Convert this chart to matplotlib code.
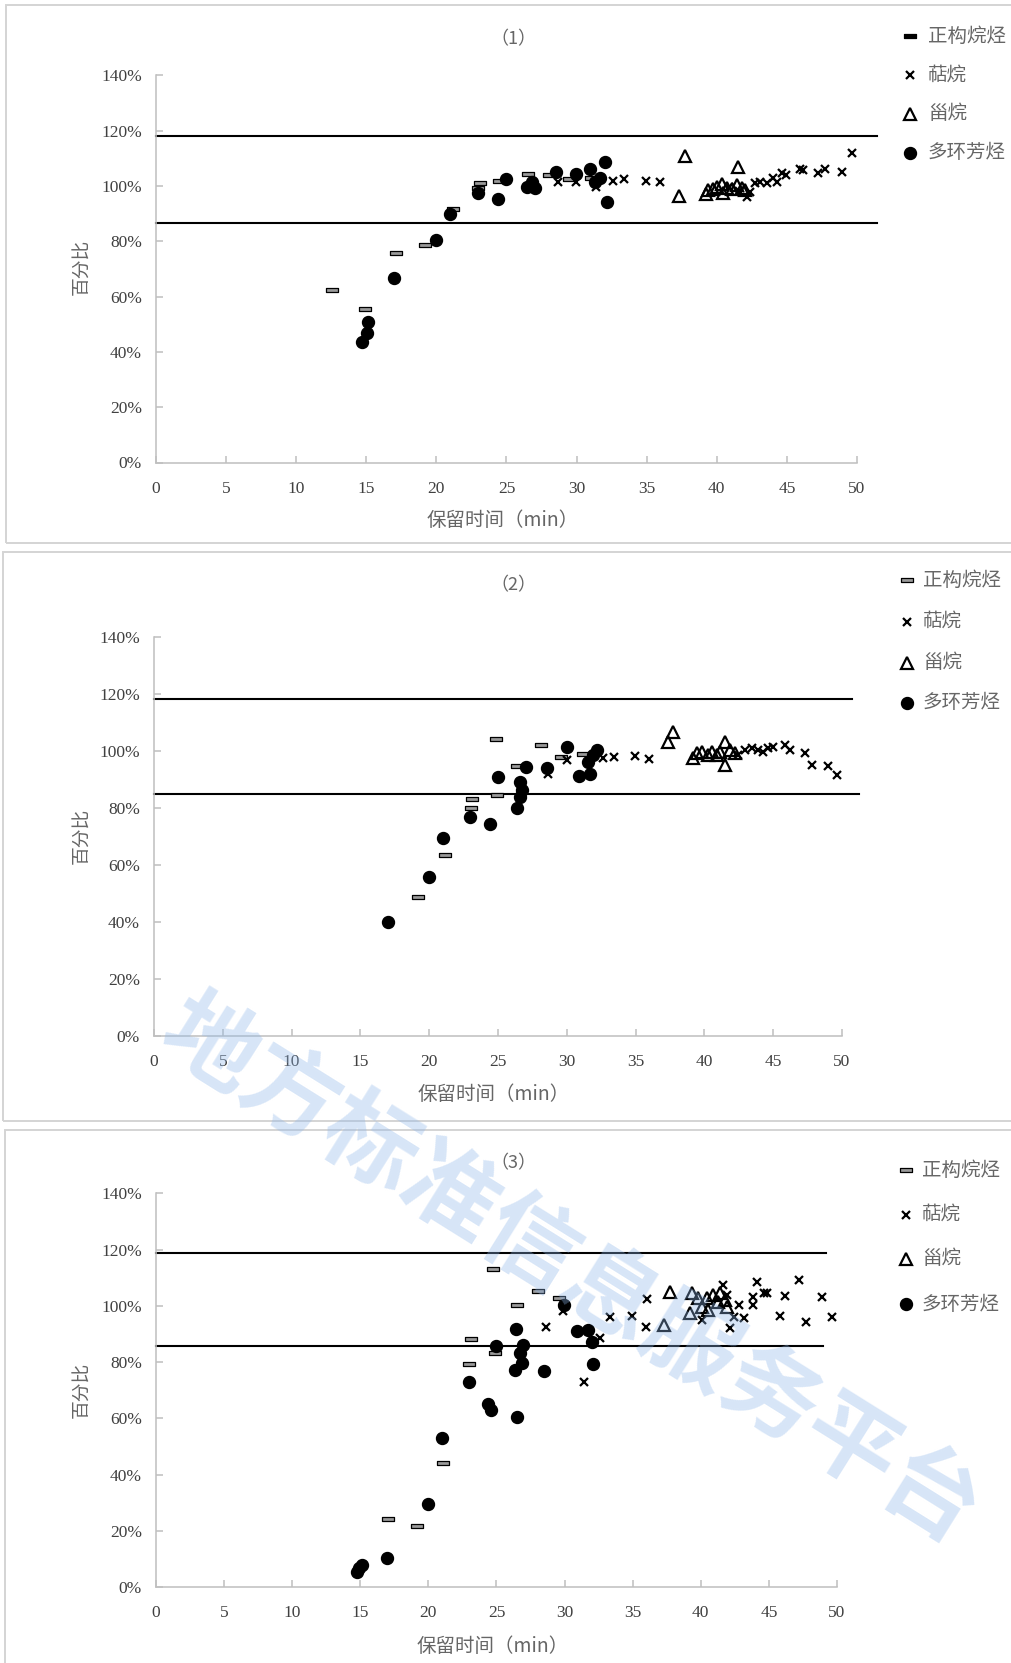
import numpy as np
import matplotlib
matplotlib.use("Agg")
import matplotlib.pyplot as plt
from matplotlib.path import Path
from matplotlib.patches import Rectangle
from matplotlib.ticker import FuncFormatter, MultipleLocator

plt.rcParams['font.family'] = ['Liberation Serif', 'Noto Sans CJK SC', 'DejaVu Sans']

# ---- data (retention time, min / recovery, %) ----
names = ["正构烷烃", "萜烷", "甾烷", "多环芳烃"]
titles = ["（1）", "（2）", "（3）"]

alk1_t = [12.58, 14.93, 17.1, 19.19, 21.16, 23.0, 23.13, 24.5, 26.55, 28.05, 29.48, 31.03]
alk1_v = [62.4, 55.4, 75.9, 78.5, 91.5, 99.4, 101.0, 101.8, 104.3, 103.9, 102.4, 103.0]
ter1_t = [28.65, 29.96, 31.38, 32.62, 33.38, 34.95, 35.95, 40.9, 41.6, 42.18, 42.37, 42.72, 43.08,
          43.56, 44.03, 44.27, 44.63, 44.94, 45.93, 46.17, 47.24, 47.72, 48.9, 49.62]
ter1_v = [101.3, 101.5, 99.7, 101.9, 102.4, 101.8, 101.5, 99.5, 98.2, 95.9, 97.9, 100.9, 101.5,
          100.9, 102.7, 101.5, 104.6, 103.9, 106.0, 105.7, 104.6, 106.0, 105.1, 111.8]
ste1_t = [37.3, 37.73, 39.2, 39.4, 39.75, 39.99, 40.35, 40.47, 40.7, 41.06, 41.42, 41.49, 41.78, 42.0]
ste1_v = [96.5, 110.8, 97.1, 98.5, 98.8, 99.7, 100.7, 97.3, 99.1, 98.8, 100.3, 106.7, 99.1, 98.5]
pah1_t = [14.72, 15.03, 15.12, 17.0, 20.0, 21.0, 22.99, 24.42, 25.0, 26.44, 26.8, 27.03, 28.5,
          29.98, 30.94, 31.3, 31.67, 32.03, 32.15]
pah1_v = [43.7, 46.9, 50.8, 66.8, 80.4, 89.8, 97.3, 95.4, 102.5, 99.7, 101.5, 99.1, 104.9,
          104.2, 106.1, 101.3, 102.7, 108.5, 94.3]

alk2_t = [19.16, 21.13, 23.06, 23.13, 24.83, 24.95, 26.40, 28.12, 29.58, 31.20]
alk2_v = [48.8, 63.4, 80.1, 83.1, 104.0, 84.5, 94.8, 102.0, 97.9, 98.9]
ter2_t = [28.66, 29.99, 32.66, 33.43, 34.96, 36.0, 42.47, 42.95, 43.44, 43.92, 44.28, 44.65,
          45.01, 45.86, 46.22, 47.31, 47.80, 49.0, 49.66]
ter2_v = [91.8, 96.8, 97.4, 97.9, 98.2, 97.1, 98.5, 100.3, 100.9, 100.3, 99.7, 100.9,
          101.4, 102.0, 100.3, 99.1, 95.0, 94.7, 91.5]
ste2_t = [37.38, 37.74, 39.2, 39.44, 39.8, 40.29, 40.53, 40.89, 41.13, 41.5, 41.5, 41.86, 42.22]
ste2_v = [103.2, 106.7, 97.4, 99.1, 99.7, 98.5, 99.7, 98.5, 99.7, 103.2, 95.0, 100.3, 99.1]
pah2_t = [16.97, 19.98, 21.0, 22.99, 24.41, 24.99, 26.40, 26.60, 26.72, 26.60, 27.01, 28.54,
          29.99, 30.91, 31.69, 31.57, 31.93, 32.17]
pah2_v = [40.0, 55.8, 69.6, 76.8, 74.4, 90.9, 79.9, 89.2, 86.3, 83.9, 94.4, 94.1,
          101.4, 91.2, 91.9, 96.2, 98.5, 100.3]

alk3_t = [17.06, 19.14, 21.1, 23.0, 23.1, 24.77, 24.89, 26.53, 28.07, 29.61]
alk3_v = [24.2, 21.7, 44.0, 79.2, 88.1, 113.0, 83.1, 100.3, 105.4, 102.7]
ter3_t = [28.63, 29.9, 31.42, 32.6, 33.33, 34.93, 35.98, 36.03, 40.07, 41.61, 41.9, 42.14, 42.44,
          42.83, 43.17, 43.85, 43.85, 44.15, 44.64, 44.88, 45.81, 46.18, 47.23, 47.72, 48.92, 49.61]
ter3_v = [92.6, 98.3, 73.0, 88.5, 95.9, 96.5, 92.6, 102.5, 95.0, 107.4, 103.9, 92.0, 96.2,
          100.3, 95.6, 103.3, 100.3, 108.6, 104.5, 104.5, 96.4, 103.5, 109.2, 94.4, 103.1, 96.2]
ste3_t = [37.3, 37.74, 39.21, 39.33, 39.82, 40.1, 40.43, 40.55, 40.92, 41.29, 41.41, 41.78, 41.9]
ste3_v = [93.2, 105.1, 97.4, 104.5, 102.7, 99.5, 102.7, 98.5, 103.9, 101.5, 104.5, 102.1, 99.7]
pah3_t = [14.73, 14.9, 15.1, 16.98, 19.95, 20.97, 23.0, 24.4, 24.57, 24.96, 26.43, 26.48, 26.36,
          26.85, 26.73, 26.97, 28.49, 29.97, 30.89, 31.74, 32.04, 32.11]
pah3_v = [5.4, 6.6, 7.8, 10.4, 29.6, 52.9, 73.0, 65.1, 63.0, 85.8, 91.8, 60.4, 77.2,
          79.6, 83.1, 86.1, 76.8, 100.3, 91.2, 91.4, 87.0, 79.3]

# acceptance limits (upper, lower) and where each line ends
limits = [(118.0, 86.6), (118.0, 84.8), (118.7, 85.7)]
limit_end = [(51.4, 51.4), (50.7, 51.2), (49.2, 49.0)]

panels = [
    (alk1_t, alk1_v, ter1_t, ter1_v, ste1_t, ste1_v, pah1_t, pah1_v),
    (alk2_t, alk2_v, ter2_t, ter2_v, ste2_t, ste2_v, pah2_t, pah2_v),
    (alk3_t, alk3_v, ter3_t, ter3_v, ste3_t, ste3_v, pah3_t, pah3_v),
]

# ---- layout (pixels of a 1012 x 1663 canvas) ----
W, H = 1012, 1663
fig = plt.figure(figsize=(W / 100, H / 100), dpi=100)

ax_px = [(156, 857, 462.5, 75.3), (154, 842, 1036.4, 636.5), (156, 837, 1587, 1193.4)]
box_px = [(6, 5, 1100, 543), (3, 552, 1100, 1121), (5, 1130, 1100, 1700)]
title_y = [39, 585, 1163]
leg_x = [(910, 928), (907, 923), (906, 922)]
leg_y = [[36, 75, 113.5, 153], [580, 621.5, 663, 703], [1170, 1214.5, 1259, 1304]]
xlab_y = [521, 1095, 1646]
ylab_y = [267, 836, 1390]

rect_marker = Path([(-1, -0.3), (1, -0.3), (1, 0.3), (-1, 0.3), (-1, -0.3)],
                   [Path.MOVETO, Path.LINETO, Path.LINETO, Path.LINETO, Path.CLOSEPOLY])

grey_txt = '#666666'
tick_txt = '#404040'
spine_c = '#bfbfbf'
cjk = ['Noto Sans CJK SC', 'DejaVu Sans']


def fx(px):
    return px / W


def fy(py):
    return 1 - py / H


for i, data in enumerate(panels):
    x0, x1, y0, y1 = ax_px[i]
    ax = fig.add_axes([fx(x0), fy(y0), (x1 - x0) / W, (y0 - y1) / H])

    bx0, by0, bx1, by1 = box_px[i]
    fig.patches.append(Rectangle((fx(bx0), fy(by1)), (bx1 - bx0) / W, (by1 - by0) / H,
                                 transform=fig.transFigure, fill=False,
                                 edgecolor='#d4d4d4', linewidth=1.4, zorder=0))

    at, av, tt, tv, st, sv, pt, pv = data
    up, lo = limits[i]
    ue, le = limit_end[i]
    ax.plot([0, ue], [up, up], color='black', lw=1.5, clip_on=False, zorder=2)
    ax.plot([0, le], [lo, lo], color='black', lw=1.5, clip_on=False, zorder=2)

    ax.plot(at, av, ls='none', marker=rect_marker, ms=9, mfc='#9a9a9a', mec='black',
            mew=0.9, clip_on=False, zorder=3)
    ax.plot(tt, tv, ls='none', marker='x', ms=6, mec='black', mew=1.6,
            clip_on=False, zorder=3)
    ax.plot(st, sv, ls='none', marker='^', ms=9, mfc='none', mec='black', mew=1.6,
            clip_on=False, zorder=3)
    ax.plot(pt, pv, ls='none', marker='o', ms=8.6, mfc='black', mec='black',
            clip_on=False, zorder=4)

    ax.set_xlim(0, 50)
    ax.set_ylim(0, 140)
    ax.xaxis.set_major_locator(MultipleLocator(5))
    ax.yaxis.set_major_locator(MultipleLocator(20))
    ax.yaxis.set_major_formatter(FuncFormatter(lambda v, p: f"{v:.0f}%"))
    for s in ['top', 'right']:
        ax.spines[s].set_visible(False)
    for s in ['left', 'bottom']:
        ax.spines[s].set_color(spine_c)
        ax.spines[s].set_linewidth(1.1)
    ax.tick_params(direction='in', length=5, width=1.1, color=spine_c,
                   labelsize=12.5, labelcolor=tick_txt)
    ax.tick_params(axis='x', pad=13)
    ax.tick_params(axis='y', pad=10)

    fig.text(fx(513), fy(title_y[i]), titles[i], ha='center', va='center',
             fontsize=13, color=grey_txt, family=cjk)
    fig.text(fx((x0 + x1) / 2 - 4), fy(xlab_y[i]), "保留时间（min）", ha='center',
             va='center', fontsize=14, color=grey_txt, family=cjk)
    fig.text(fx(82), fy(ylab_y[i]), "百分比", ha='center', va='center', rotation=90,
             fontsize=13.5, color=grey_txt, family=cjk)

    # legend drawn by hand on the right side
    mx, tx = leg_x[i]
    styles = [dict(marker=rect_marker, ms=9, mfc='black' if i == 0 else '#9a9a9a',
                   mec='black', mew=0.9),
              dict(marker='x', ms=6, mec='black', mew=1.6),
              dict(marker='^', ms=8, mfc='none', mec='black', mew=1.6),
              dict(marker='o', ms=8.6, mfc='black', mec='black')]
    for k in range(4):
        ax.plot([fx(mx)], [fy(leg_y[i][k])], ls='none', transform=fig.transFigure,
                clip_on=False, **styles[k])
        fig.text(fx(tx), fy(leg_y[i][k]), names[k], ha='left', va='center',
                 fontsize=14, color=grey_txt, family=cjk)

# watermark
fig.text(fx(570), fy(1272), "地方标准信息服务平台", ha='center', va='center',
         rotation=-32, fontsize=68, color='#8db6ea', alpha=0.35,
         family=['Noto Sans CJK SC'], fontweight='bold', zorder=10)

fig.savefig("out.png", dpi=100)
